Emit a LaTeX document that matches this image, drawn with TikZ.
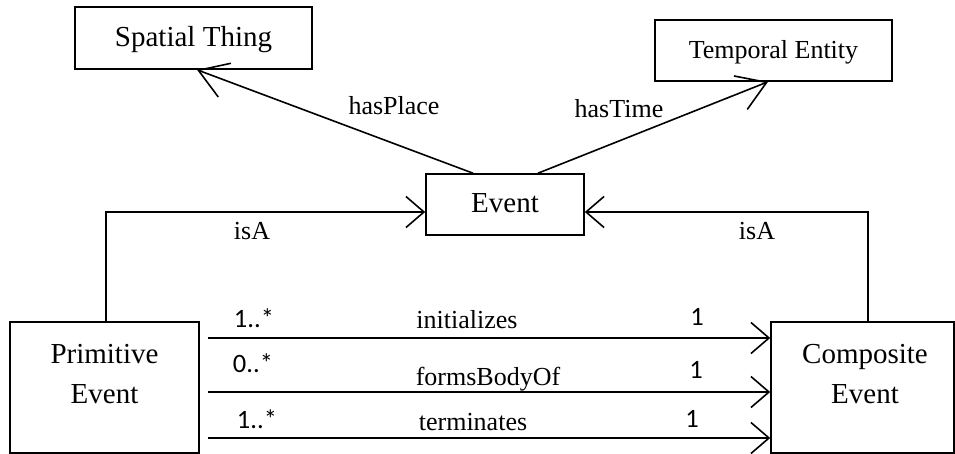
\documentclass[tikz,border=0pt]{standalone}
\usepackage{fontspec}
\setmainfont{Liberation Serif}
\newfontfamily\multfont{Carlito}
\usetikzlibrary{arrows.meta,calc}

\tikzset{
  box/.style={draw, line width=1.6pt, inner sep=0pt, fill=white},
  boxfont/.style={font=\fontsize{29}{40}\selectfont},
  relfont/.style={font=\fontsize{26}{30}\selectfont},
  mult/.style={font=\multfont\fontsize{26.5}{28}\selectfont, anchor=base, inner sep=0pt},
  rel/.style={relfont, anchor=base, inner sep=0pt},
  conn/.style={line width=1.6pt},
  flatarrow/.style={conn, -{Straight Barb[length=18pt,width=31pt]}},
  slantarrow/.style={conn, -{Straight Barb[length=28pt,width=36pt]}},
}

\begin{document}
\begin{tikzpicture}[x=1pt,y=-1pt]
\useasboundingbox (0,0) rectangle (955,454);

% classes
\node[box, boxfont, minimum width=237pt, minimum height=62pt,
      text height=19pt, text depth=1pt] (spatial) at (193.5,38) {Spatial Thing};
\node[box, relfont, minimum width=237pt, minimum height=61pt,
      text height=18pt, text depth=1pt] (temporal) at (773.5,50.5) {Temporal Entity};
\node[box, boxfont, minimum width=158pt, minimum height=61pt,
      text height=18pt, text depth=1pt] (event) at (505,204.5) {Event};
\node[box, minimum width=189pt, minimum height=131pt] (prim) at (104.5,387.5) {};
\node[box, minimum width=183pt, minimum height=131pt] (comp) at (862.5,387.5) {};
% two-line names: the base anchor sits on the last line
\node[boxfont, align=center, anchor=base, inner sep=0pt] (primtxt) at (104.5,403) {Primitive\\Event};
\node[boxfont, align=center, anchor=base, inner sep=0pt] (comptxt) at (865,403) {Composite\\Event};

% properties of Event
\draw[slantarrow] ([xshift=-32pt]event.north) -- ([xshift=3.5pt]spatial.south);
\draw[slantarrow] ([xshift=33pt]event.north) -- ([xshift=-5.5pt]temporal.south);
\node[rel] (hasplace) at (394,115) {hasPlace};
\node[rel] (hastime) at (619,118) {hasTime};

% generalisation
\draw[flatarrow] ([xshift=1.5pt]prim.north) |- ($(event.west)+(0,7.5)$);
\draw[flatarrow] ([xshift=5.5pt]comp.north) |- ($(event.east)+(0,7.5)$);
\node[rel] (isaleft) at (252,240) {isA};
\node[rel] (isaright) at (757,240) {isA};

% associations between primitive and composite events
\draw[flatarrow] ($(prim.east)+(8,-49.5)$) -- ($(comp.west)+(0,-49.5)$);
\draw[flatarrow] ($(prim.east)+(8,4.5)$) -- ($(comp.west)+(0,4.5)$);
\draw[flatarrow] ($(prim.east)+(8,50.5)$) -- ($(comp.west)+(0,50.5)$);
\node[rel] (init) at (467,328) {initializes};
\node[rel] (body) at (488,385) {formsBodyOf};
\node[rel] (term) at (473,430) {terminates};
\node[mult] (m1) at (254,327.5) {1..*};
\node[mult] (m2) at (253,372.5) {0..*};
\node[mult] (m3) at (257,428.5) {1..*};
\node[mult] (n1) at (697,325) {1};
\node[mult] (n2) at (696,378) {1};
\node[mult] (n3) at (692,427) {1};
\end{tikzpicture}
\end{document}
